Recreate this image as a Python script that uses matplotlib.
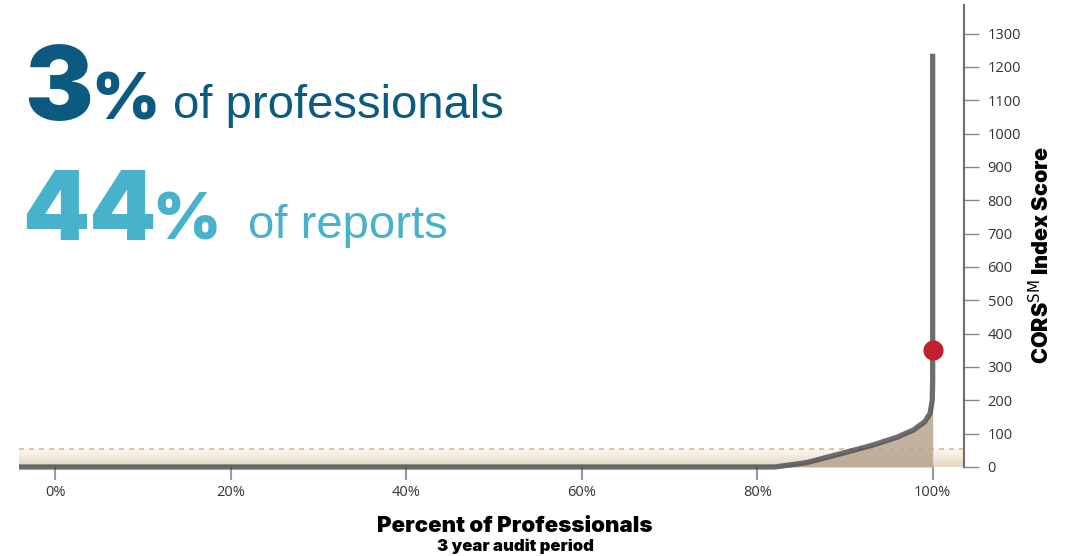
import numpy as np
import matplotlib
matplotlib.use("Agg")
import matplotlib.pyplot as plt
from matplotlib.colors import LinearSegmentedColormap

# ---- data ----
pct = [-4.14, 82, 85.6, 89.4, 93.2, 95.9, 97.8, 99.1, 99.7, 99.95, 100, 100]
score = [0, 0, 13, 39, 66, 89, 111, 136, 161, 200, 260, 1240]
fill_pct = [82, 85.6, 89.4, 93.2, 95.9, 97.8, 99.1, 99.7, 99.95, 100]
fill_score = [0, 13, 39, 66, 89, 111, 136, 161, 200, 200]
marker_pct = [100]
marker_score = [350]
threshold = 53
xticks = [0, 20, 40, 60, 80, 100]
xticklabels = ["0%", "20%", "40%", "60%", "80%", "100%"]
yticks = list(range(0, 1301, 100))

W, H = 1076, 556
fig = plt.figure(figsize=(W / 100, H / 100), dpi=100)
ax = fig.add_axes([19 / W, (H - 467) / H, (964 - 19) / W, (467 - 5) / H])
ax.set_xlim(-4.14, 103.57)
ax.set_ylim(0, 1386)

# gradient band
cmap = LinearSegmentedColormap.from_list("band", ["#e3d5bf", "#fbf8f2"])
grad = np.linspace(0, 1, 100).reshape(-1, 1)
ax.imshow(grad, cmap=cmap, aspect="auto", origin="lower",
          extent=[-4.14, 103.57, 0, threshold], zorder=0)
ax.axhline(threshold, color="#d9b98a", lw=1.2, ls=(0, (3, 3)), zorder=1)

ax.fill_between(fill_pct, 0, fill_score, color="#b8a48e", alpha=0.85, lw=0, zorder=2)
ax.plot(pct, score, color="#4a4a4a", lw=3.8, alpha=0.8, solid_capstyle="butt",
        zorder=3, clip_on=False)
ax.plot(marker_pct, marker_score, "o", color="#c21f2f", ms=14.5, zorder=4, mec="none")

for s in ["top", "left", "bottom"]:
    ax.spines[s].set_visible(False)
ax.spines["right"].set_color("#6e6e6e")
ax.spines["right"].set_linewidth(1.5)

ax.yaxis.tick_right()
ax.set_yticks(yticks)
ax.set_yticklabels([str(v) for v in yticks], fontsize=10.5, color="#333333",
                   fontfamily="Open Sans")
ax.tick_params(axis="y", direction="out", length=11, width=1, color="#888888", pad=6)
ax.set_xticks(xticks)
ax.set_xticklabels(xticklabels, fontsize=10.5, color="#333333", fontfamily="Open Sans")
ax.tick_params(axis="x", direction="out", length=9, width=1.5, color="#999999", pad=4)

def px(x, y):
    return x / W, 1 - y / H

heavy = dict(fontfamily=["Inter", "DejaVu Sans"], fontweight=900)
fig.text(*px(1041, 255), r"CORS$^{\mathrm{SM}}$ Index Score", rotation=90,
         ha="center", va="center", fontsize=15.5, **heavy)
fig.text(*px(515, 532), "Percent of Professionals", ha="center", va="baseline",
         fontsize=16, **heavy)
fig.text(*px(515, 551), "3 year audit period", ha="center", va="baseline",
         fontsize=12, **heavy)

dark = "#0c5a80"
light = "#48b1cc"
fig.text(*px(24, 120), "3", ha="left", va="baseline", fontsize=74,
         color=dark, **heavy)
fig.text(*px(91, 120), "%", ha="left", va="baseline", fontsize=47,
         color=dark, **heavy)
fig.text(*px(173, 118), "of professionals", ha="left", va="baseline", fontsize=34,
         color=dark, fontfamily="Liberation Sans")
fig.text(*px(22, 240), "44", ha="left", va="baseline", fontsize=69,
         color=light, **heavy)
fig.text(*px(152, 240), "%", ha="left", va="baseline", fontsize=47,
         color=light, **heavy)
fig.text(*px(248, 238), "of reports", ha="left", va="baseline", fontsize=34,
         color=light, fontfamily="Liberation Sans")

fig.savefig("out.png", dpi=100)
